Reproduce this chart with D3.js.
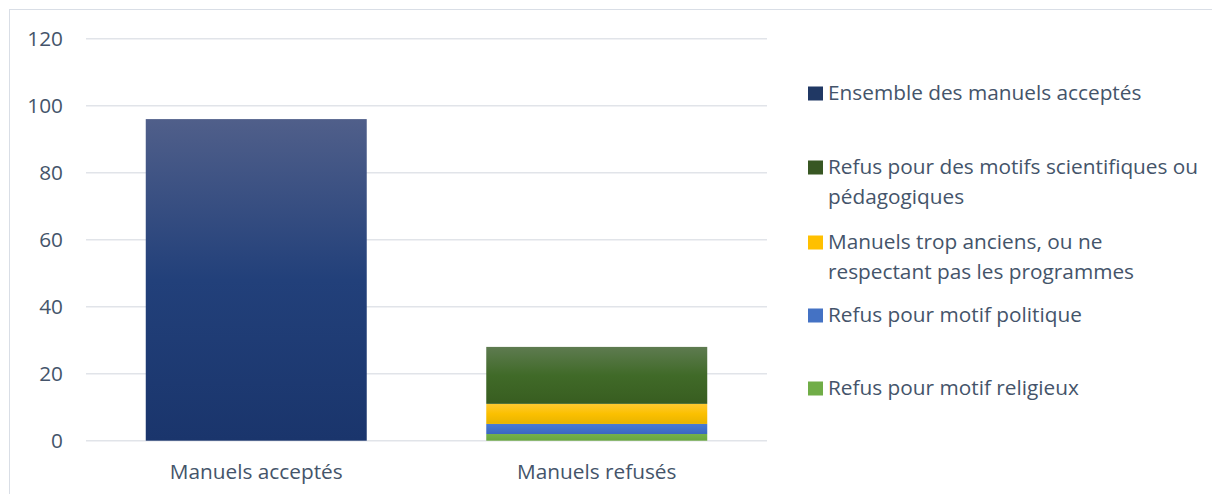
<!DOCTYPE html>
<html><head><meta charset="utf-8">
<script src="https://cdn.jsdelivr.net/npm/d3@7"></script>
<style>
body{margin:0;background:#fff;}
svg{display:block;font-family:"Open Sans",sans-serif;}
</style></head>
<body><svg id="c" width="1212" height="494"></svg>
<script>
const categories = ["Manuels acceptés", "Manuels refusés"];
const seriesNames = ["Refus pour motif religieux", "Refus pour motif politique", "Manuels trop anciens, ou ne respectant pas les programmes", "Refus pour des motifs scientifiques ou pédagogiques"];
const acceptedValues = [96, 0];
const religieux = [0, 2];
const politique = [0, 3];
const anciens = [0, 6];
const scientifiques = [0, 17];
const yTicks = [0, 20, 40, 60, 80, 100, 120];

const svg = d3.select("#c");
const textColor = "#44546A";
const fs = 20.8;

svg.append("rect").attr("x",9.5).attr("y",9.5).attr("width",1210).attr("height",500)
  .attr("fill","none").attr("stroke","#D9DEE6").attr("stroke-width",1);

const x = d3.scaleBand().domain(categories).range([86,767]).paddingInner(0.351).paddingOuter(0.1755);
const y = d3.scaleLinear().domain([0,120]).range([440.7,38.7]);

const defs = svg.append("defs");
function grad(id, stops){
  const g = defs.append("linearGradient").attr("id",id).attr("x1",0).attr("y1",0).attr("x2",0).attr("y2",1);
  stops.forEach(s=>g.append("stop").attr("offset",s[0]).attr("stop-color",s[1]));
}
grad("gAcc", [[0,"#505f8a"],[0.5,"#22407a"],[1,"#1a356c"]]);
grad("gSci", [[0,"#5e7b50"],[0.5,"#406a28"],[1,"#385d20"]]);
grad("gAnc", [[0,"#ffc931"],[0.5,"#fbc000"],[1,"#e8b300"]]);
grad("gPol", [[0,"#4a7bd4"],[1,"#3a67c0"]]);
grad("gRel", [[0,"#74b04a"],[1,"#68a63f"]]);

svg.append("g").selectAll("line").data(yTicks).join("line")
  .attr("x1",86).attr("x2",767).attr("y1",d=>y(d)).attr("y2",d=>y(d))
  .attr("stroke","#E1E4E9").attr("stroke-width",1.5);

svg.append("g").selectAll("text").data(yTicks).join("text")
  .attr("x",63).attr("y",d=>y(d)).attr("dy","0.35em").attr("text-anchor","end")
  .attr("font-size",fs).attr("fill",textColor).text(d=>d);

svg.append("g").selectAll("rect").data(categories.map((c,i)=>({c,v:acceptedValues[i]})).filter(d=>d.v>0)).join("rect")
  .attr("x",d=>x(d.c)).attr("width",x.bandwidth()).attr("y",d=>y(d.v)).attr("height",d=>y(0)-y(d.v))
  .attr("fill","url(#gAcc)");

const rows = categories.map((c,i)=>({c, rel:religieux[i], pol:politique[i], anc:anciens[i], sci:scientifiques[i]}));
const stack = d3.stack().keys(["rel","pol","anc","sci"])(rows);
const fills = {rel:"url(#gRel)", pol:"url(#gPol)", anc:"url(#gAnc)", sci:"url(#gSci)"};
svg.append("g").selectAll("g").data(stack).join("g").attr("fill",d=>fills[d.key])
  .selectAll("rect").data(d=>d.filter(p=>p[1]-p[0]>0)).join("rect")
  .attr("x",d=>x(d.data.c)).attr("width",x.bandwidth())
  .attr("y",d=>y(d[1])).attr("height",d=>y(d[0])-y(d[1]));

svg.append("g").selectAll("text").data(categories).join("text")
  .attr("x",d=>x(d)+x.bandwidth()/2).attr("y",479).attr("text-anchor","middle")
  .attr("font-size",fs).attr("fill",textColor).text(d=>d);

const legend = [
  {lines:["Ensemble des manuels acceptés"], color:"#203864", cy:93},
  {lines:["Refus pour des motifs scientifiques ou","pédagogiques"], color:"#385723", cy:167},
  {lines:["Manuels trop anciens, ou ne","respectant pas les programmes"], color:"#FFC000", cy:242},
  {lines:["Refus pour motif politique"], color:"#4472C4", cy:315},
  {lines:["Refus pour motif religieux"], color:"#70AD47", cy:388}
];
const lg = svg.append("g");
legend.forEach(l=>{
  lg.append("rect").attr("x",808).attr("y",l.cy-6.5).attr("width",15).attr("height",14).attr("fill",l.color);
  l.lines.forEach((t,i)=>{
    lg.append("text").attr("x",828).attr("y",l.cy+i*30).attr("dy","0.35em")
      .attr("font-size",fs).attr("fill",textColor).text(t);
  });
});
</script></body></html>
